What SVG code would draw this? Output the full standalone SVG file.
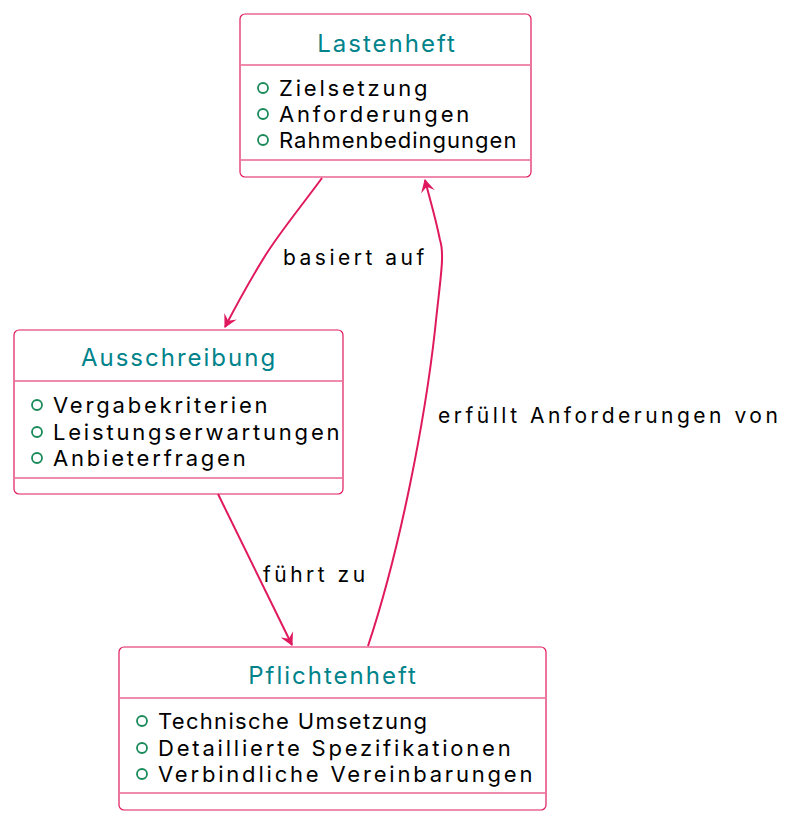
<svg xmlns="http://www.w3.org/2000/svg" width="800" height="824" viewBox="0 0 800 824">
<defs>
<style>
.box{fill:#fff;stroke:#E0195E;stroke-width:1.2}
.sep{stroke:#E0195E;stroke-width:1.2}
.title{font-family:Inter,"Open Sans",sans-serif;font-size:24px;fill:#00838A;text-anchor:middle;letter-spacing:2px}
.item{font-family:Inter,"Open Sans",sans-serif;font-size:22px;fill:#000;letter-spacing:2.8px}
.dot{fill:none;stroke:#1A8A5A;stroke-width:1.8}
.edge{fill:none;stroke:#E0195E;stroke-width:2}
.lbl{font-family:Inter,"Open Sans",sans-serif;font-size:21px;fill:#000;letter-spacing:3.5px}
</style>
<marker id="ah" viewBox="0 0 14 14" refX="12" refY="7" markerWidth="14" markerHeight="14" markerUnits="userSpaceOnUse" orient="auto">
<path d="M0,0 L13,7 L0,14 L5,7 Z" fill="#E0195E"/>
</marker>
</defs>
<g id="Lastenheft">
<rect class="box" x="240" y="14" width="291" height="163" rx="5"/>
<text class="title" x="387" y="52">Lastenheft</text>
<line class="sep" x1="241" y1="65" x2="530" y2="65"/>
<circle class="dot" cx="263" cy="88" r="5"/><text class="item" x="279" y="96">Zielsetzung</text>
<circle class="dot" cx="263" cy="114" r="5"/><text class="item" x="279" y="122">Anforderungen</text>
<circle class="dot" cx="263" cy="140" r="5"/><text class="item" x="279" y="148" style="letter-spacing:1px">Rahmenbedingungen</text>
<line class="sep" x1="241" y1="160" x2="530" y2="160"/>
</g>
<g id="Ausschreibung">
<rect class="box" x="14" y="330" width="329" height="164" rx="5"/>
<text class="title" x="179" y="366">Ausschreibung</text>
<line class="sep" x1="15" y1="381" x2="342" y2="381"/>
<circle class="dot" cx="37" cy="405" r="5"/><text class="item" x="53" y="413">Vergabekriterien</text>
<circle class="dot" cx="37" cy="432" r="5"/><text class="item" x="53" y="440">Leistungserwartungen</text>
<circle class="dot" cx="37" cy="458" r="5"/><text class="item" x="53" y="466">Anbieterfragen</text>
<line class="sep" x1="15" y1="478" x2="342" y2="478"/>
</g>
<g id="Pflichtenheft">
<rect class="box" x="119" y="647" width="427" height="163" rx="5"/>
<text class="title" x="333" y="684">Pflichtenheft</text>
<line class="sep" x1="120" y1="698" x2="545" y2="698"/>
<circle class="dot" cx="142" cy="721" r="5"/><text class="item" x="158" y="729" style="letter-spacing:1.3px">Technische Umsetzung</text>
<circle class="dot" cx="142" cy="748" r="5"/><text class="item" x="158" y="756">Detaillierte Spezifikationen</text>
<circle class="dot" cx="142" cy="774" r="5"/><text class="item" x="158" y="782">Verbindliche Vereinbarungen</text>
<line class="sep" x1="120" y1="793" x2="545" y2="793"/>
</g>
<g id="connectors">
<path class="edge" d="M322,178 C300,208 280,232 265,256 C252,277 238,302 225,327" marker-end="url(#ah)"/>
<text class="lbl" x="283" y="265">basiert auf</text>
<path class="edge" d="M218,494 L292,645" marker-end="url(#ah)"/>
<text class="lbl" x="263" y="582">führt zu</text>
<path class="edge" d="M368,646 C400,550 425,420 435,330 C440,280 445,255 440,240 C435,215 430,200 425,180" marker-end="url(#ah)"/>
<text class="lbl" x="438" y="423">erfüllt Anforderungen von</text>
</g>
</svg>
